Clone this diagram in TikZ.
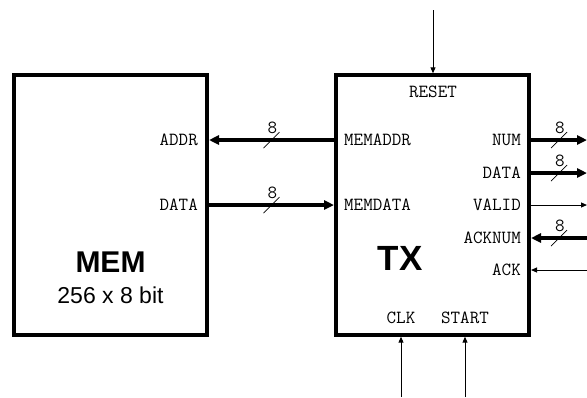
\documentclass[tikz,border=0pt]{standalone}
\usepackage{fontspec}
\setmainfont{Liberation Sans}
\setsansfont{Liberation Sans}
\usetikzlibrary{arrows.meta}
\newcommand{\portfont}{\ttfamily\fontsize{18.5}{18.5}\selectfont}
\tikzset{buswidth/.pic={
  \draw[line width=0.7pt, -] (-8,8) -- (8,-8);
  \node[font=\portfont, inner sep=0pt] at (1,-12) {8};
}}
\begin{document}
\begin{tikzpicture}[x=1pt, y=-1pt,
  block/.style={draw, line width=4pt, minimum width=193pt, minimum height=259.4pt, inner sep=0pt},
  port/.style={font=\portfont, inner sep=0pt},
  bus/.style={line width=3.5pt, -{Triangle[length=10pt, width=9pt]}},
  sig/.style={line width=1pt, -{Triangle[length=6pt, width=5pt]}}]
  \useasboundingbox (0,0) rectangle (587,397);
  % the two blocks
  \node[block] (mem) at (110.5,205) {};
  \node[block] (tx) at (432.5,205) {};
  \node[font=\sffamily\bfseries\fontsize{30}{30}\selectfont] (memname) at (110.5,262) {MEM};
  \node[font=\sffamily\fontsize{23}{23}\selectfont] (memsize) at (110.5,295) {256 x 8 bit};
  \node[font=\sffamily\bfseries\fontsize{35}{35}\selectfont] (txname) at (400,258) {TX};
  % ports of MEM
  \node[port, anchor=east] (addr) at (198,140) {ADDR};
  \node[port, anchor=east] (memd) at (198,205) {DATA};
  % ports of TX
  \node[port, anchor=west] (memaddr) at (344,140) {MEMADDR};
  \node[port, anchor=west] (memdata) at (344,205) {MEMDATA};
  \node[port, anchor=east] (num) at (521,140) {NUM};
  \node[port, anchor=east] (txd) at (521,173) {DATA};
  \node[port, anchor=east] (valid) at (521,205) {VALID};
  \node[port, anchor=east] (acknum) at (521,238) {ACKNUM};
  \node[port, anchor=east] (ack) at (521,270) {ACK};
  \node[port] (reset) at (433,92) {RESET};
  \node[port] (clk) at (401,318) {CLK};
  \node[port] (start) at (465,318) {START};
  % free ends
  \coordinate (rstin) at (433,10);
  \coordinate (clkin) at (401,397);
  \coordinate (startin) at (465,397);
  \coordinate (numout) at (587,140);
  \coordinate (dataout) at (587,173);
  \coordinate (validout) at (587,205);
  \coordinate (acknumin) at (587,238);
  \coordinate (ackin) at (587,270);
  % connections
  \draw[bus] (tx.west |- memaddr) -- (mem.east |- addr) pic[pos=0.5] {buswidth};
  \draw[bus] (mem.east |- memd) -- (tx.west |- memdata) pic[pos=0.5] {buswidth};
  \draw[bus] (tx.east |- num) -- (numout) pic[pos=0.5] {buswidth};
  \draw[bus] (tx.east |- txd) -- (dataout) pic[pos=0.5] {buswidth};
  \draw[sig] (tx.east |- valid) -- (validout);
  \draw[bus] (acknumin) -- (tx.east |- acknum) pic[pos=0.5] {buswidth};
  \draw[sig] (ackin) -- (tx.east |- ack);
  \draw[sig] (rstin) -- (tx.north -| rstin);
  \draw[sig] (clkin) -- (tx.south -| clkin);
  \draw[sig] (startin) -- (tx.south -| startin);
\end{tikzpicture}
\end{document}
